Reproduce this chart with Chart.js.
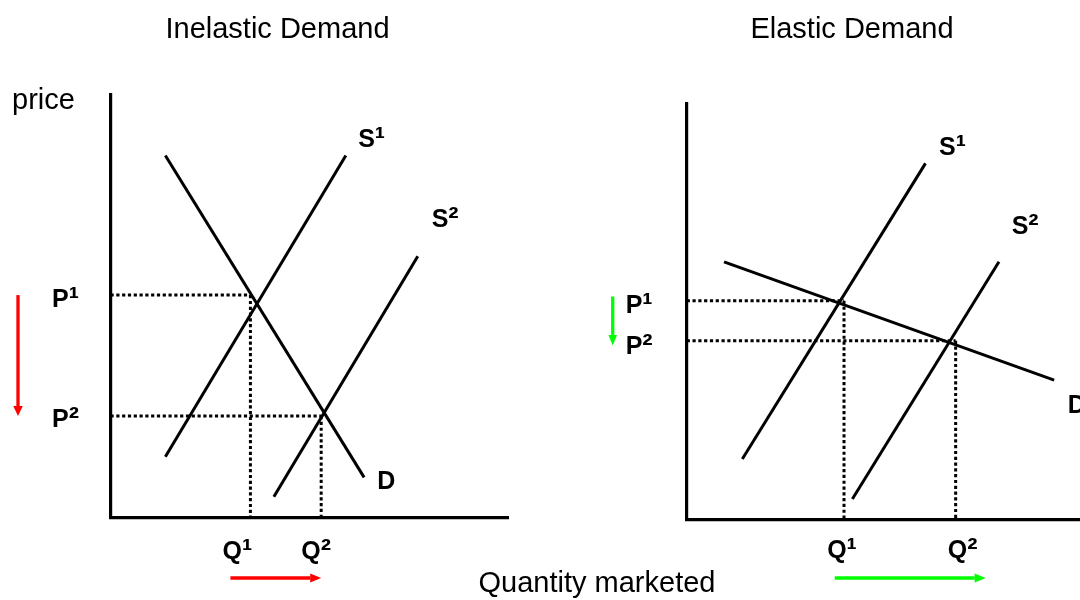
<!DOCTYPE html>
<html>
<head>
<meta charset="utf-8">
<title>Inelastic vs Elastic Demand</title>
<script src="https://cdn.jsdelivr.net/npm/chart.js@4.4.1/dist/chart.umd.min.js"></script>
<style>
  html, body { margin: 0; padding: 0; background: #fff; overflow: hidden; }
  #wrap { position: relative; width: 1080px; height: 600px; }
  #wrap canvas { position: absolute; left: 0; top: 0; }
</style>
</head>
<body>
<div id="wrap">
  <canvas id="inelastic" width="1080" height="600"></canvas>
  <canvas id="elastic" width="1080" height="600"></canvas>
</div>
<script>
// ---------- DATA (quantity on x, price on y, arbitrary 0–10 units) ----------
// Inelastic demand diagram
const inelasticDemand   = [[1.38, 8.57], [6.38, 0.96]];
const inelasticSupply1  = [[1.38, 1.45], [5.92, 8.57]];
const inelasticSupply2  = [[4.11, 0.50], [7.73, 6.19]];
const inelasticPrices   = [5.27, 2.41];   // P1, P2
const inelasticQuantity = [3.52, 5.30];   // Q1, Q2

// Elastic demand diagram
const elasticDemand   = [[0.94, 6.20], [9.25, 3.35]];
const elasticSupply1  = [[1.40, 1.45], [6.01, 8.57]];
const elasticSupply2  = [[4.17, 0.49], [7.86, 6.20]];
const elasticPrices   = [5.26, 4.30];     // P1, P2
const elasticQuantity = [3.96, 6.77];     // Q1, Q2

// Tick / curve names
const priceNames    = ['P¹', 'P²'];
const quantityNames = ['Q¹', 'Q²'];
const inelasticCurveLabels = [
  { text: 'S¹', x: 6.23, y: 8.77 },
  { text: 'S²', x: 8.08, y: 6.88 },
  { text: 'D',  x: 6.71, y: 0.69 }
];
const elasticCurveLabels = [
  { text: 'S¹', x: 6.35, y: 8.77 },
  { text: 'S²', x: 8.18, y: 6.87 },
  { text: 'D',  x: 9.59, y: 2.56 }
];

// ---------- helpers ----------
const FAMILY = "'Liberation Sans', Arial, Helvetica, sans-serif";
const NORMAL = '29px ' + FAMILY;
const BOLD = 'bold 25px ' + FAMILY;
const SUP  = 'bold 31px ' + FAMILY;

const pts = arr => arr.map(([x, y]) => ({ x, y }));

function curve(arr) {
  return { data: pts(arr), showLine: true, borderColor: '#000', borderWidth: 3,
           pointRadius: 0, fill: false, tension: 0 };
}
function guide(arr) {
  return { data: pts(arr), showLine: true, borderColor: '#000', borderWidth: 3,
           borderDash: [3.2, 2.6], pointRadius: 0, fill: false, tension: 0 };
}
function guidesFor(prices, qty) {
  return [
    guide([[0, prices[0]], [qty[0], prices[0]]]),
    guide([[qty[0], prices[0]], [qty[0], 0]]),
    guide([[0, prices[1]], [qty[1], prices[1]]]),
    guide([[qty[1], prices[1]], [qty[1], 0]])
  ];
}

// draws e.g. "S¹" with the superscript glyph enlarged; align 'left' or 'center'
function drawName(ctx, text, x, y, align) {
  const m = text.search(/[¹²]/);
  const base = m < 0 ? text : text.slice(0, m);
  const sup = m < 0 ? '' : text.slice(m);
  ctx.font = BOLD; const wb = ctx.measureText(base).width;
  ctx.font = SUP;  const ws = sup ? ctx.measureText(sup).width : 0;
  let left = align === 'center' ? x - (wb + ws) / 2 : x;
  ctx.textAlign = 'left';
  ctx.font = BOLD; ctx.fillText(base, left, y);
  if (sup) { ctx.font = SUP; ctx.fillText(sup, left + wb, y + 1); }
}

function drawArrow(ctx, x1, y1, x2, y2, color, headLen, headHalf) {
  const ang = Math.atan2(y2 - y1, x2 - x1);
  const bx = x2 - headLen * Math.cos(ang), by = y2 - headLen * Math.sin(ang);
  ctx.strokeStyle = color; ctx.fillStyle = color; ctx.lineWidth = 3.3; ctx.setLineDash([]);
  ctx.beginPath(); ctx.moveTo(x1, y1); ctx.lineTo(bx, by); ctx.stroke();
  ctx.beginPath();
  ctx.moveTo(x2, y2);
  ctx.lineTo(bx + headHalf * Math.sin(ang), by - headHalf * Math.cos(ang));
  ctx.lineTo(bx - headHalf * Math.sin(ang), by + headHalf * Math.cos(ang));
  ctx.closePath(); ctx.fill();
}

const econLabels = {
  id: 'econLabels',
  afterDraw(chart, args, o) {
    const { ctx } = chart;
    const xs = chart.scales.x, ys = chart.scales.y;
    const X = v => xs.getPixelForValue(v), Y = v => ys.getPixelForValue(v);
    ctx.save();
    ctx.fillStyle = '#000';
    ctx.textBaseline = 'alphabetic';
    // plain texts (titles / axis names)
    o.texts.forEach(t => {
      ctx.font = NORMAL; ctx.textAlign = t.align;
      ctx.fillText(t.text, t.px, t.py);
    });
    // curve names
    o.curveLabels.forEach(l => drawName(ctx, l.text, X(l.x), Y(l.y), 'left'));
    // price tick names
    priceNames.forEach((n, i) => drawName(ctx, n, X(0) + o.pDx, Y(o.prices[i]) + o.pDy[i], 'left'));
    // quantity tick names
    quantityNames.forEach((n, i) => drawName(ctx, n, X(o.qty[i]) + o.qDx[i], Y(0) + o.qDy, 'center'));
    // arrows
    const a = o.arrows;
    drawArrow(ctx, X(0) + a.pX, Y(o.prices[0]) + a.pFrom, X(0) + a.pX, Y(o.prices[1]) + a.pTo,
              a.color, a.vHead, a.vHalf);
    drawArrow(ctx, X(o.qty[0]) + a.qFrom, Y(0) + a.qY, X(o.qty[1]) + a.qTo, Y(0) + a.qY,
              a.color, a.hHead, a.hHalf);
    ctx.restore();
  }
};

function makeChart(id, datasets, layout, xMax, yMax, labelOpts) {
  return new Chart(document.getElementById(id), {
    type: 'scatter',
    data: { datasets },
    options: {
      responsive: false,
      animation: false,
      events: [],
      layout: { padding: layout },
      plugins: {
        legend: { display: false },
        tooltip: { enabled: false },
        econLabels: labelOpts
      },
      scales: {
        x: {
          type: 'linear', min: 0, max: xMax,
          grid: { display: false, drawTicks: false },
          ticks: { display: false },
          border: { display: true, color: '#000', width: 3.2 },
          afterFit: s => { s.height = 0; }
        },
        y: {
          type: 'linear', min: 0, max: yMax,
          grid: { display: false, drawTicks: false },
          ticks: { display: false },
          border: { display: true, color: '#000', width: 3.2 },
          afterFit: s => { s.width = 0; }
        }
      }
    },
    plugins: [econLabels]
  });
}

// ---------- Inelastic (left) ----------
makeChart('inelastic',
  [curve(inelasticDemand), curve(inelasticSupply1), curve(inelasticSupply2),
   ...guidesFor(inelasticPrices, inelasticQuantity)],
  { left: 110.5, top: 95, right: 572, bottom: 82 }, 10, 10,
  {
    texts: [
      { text: 'Inelastic Demand', px: 277.5, py: 38, align: 'center' },
      { text: 'price', px: 12, py: 109, align: 'left' },
      { text: 'Quantity marketed', px: 597, py: 592, align: 'center' }
    ],
    curveLabels: inelasticCurveLabels,
    prices: inelasticPrices, qty: inelasticQuantity,
    pDx: -58.5, pDy: [11.5, 10.8],
    qDx: [-13, -5], qDy: 41,
    arrows: { color: '#ff0000', pX: -92.5, pFrom: 0, pTo: 0, vHead: 10, vHalf: 4.8,
              qY: 60, qFrom: -20, qTo: 0, hHead: 11, hHalf: 4.5 }
  });

// ---------- Elastic (right) ----------
makeChart('elastic',
  [curve(elasticDemand), curve(elasticSupply1), curve(elasticSupply2),
   ...guidesFor(elasticPrices, elasticQuantity)],
  { left: 686.7, top: 104, right: 0, bottom: 80.7 }, 9.9, 10,
  {
    texts: [
      { text: 'Elastic Demand', px: 852, py: 38, align: 'center' }
    ],
    curveLabels: elasticCurveLabels,
    prices: elasticPrices, qty: elasticQuantity,
    pDx: -61, pDy: [12, 13],
    qDx: [-2, 7], qDy: 39,
    arrows: { color: '#00ff00', pX: -74, pFrom: -4.3, pTo: 4.7, vHead: 10.5, vHalf: 4.3,
              qY: 58.7, qFrom: -9.3, qTo: 30, hHead: 11, hHalf: 4.5 }
  });
</script>
</body>
</html>
